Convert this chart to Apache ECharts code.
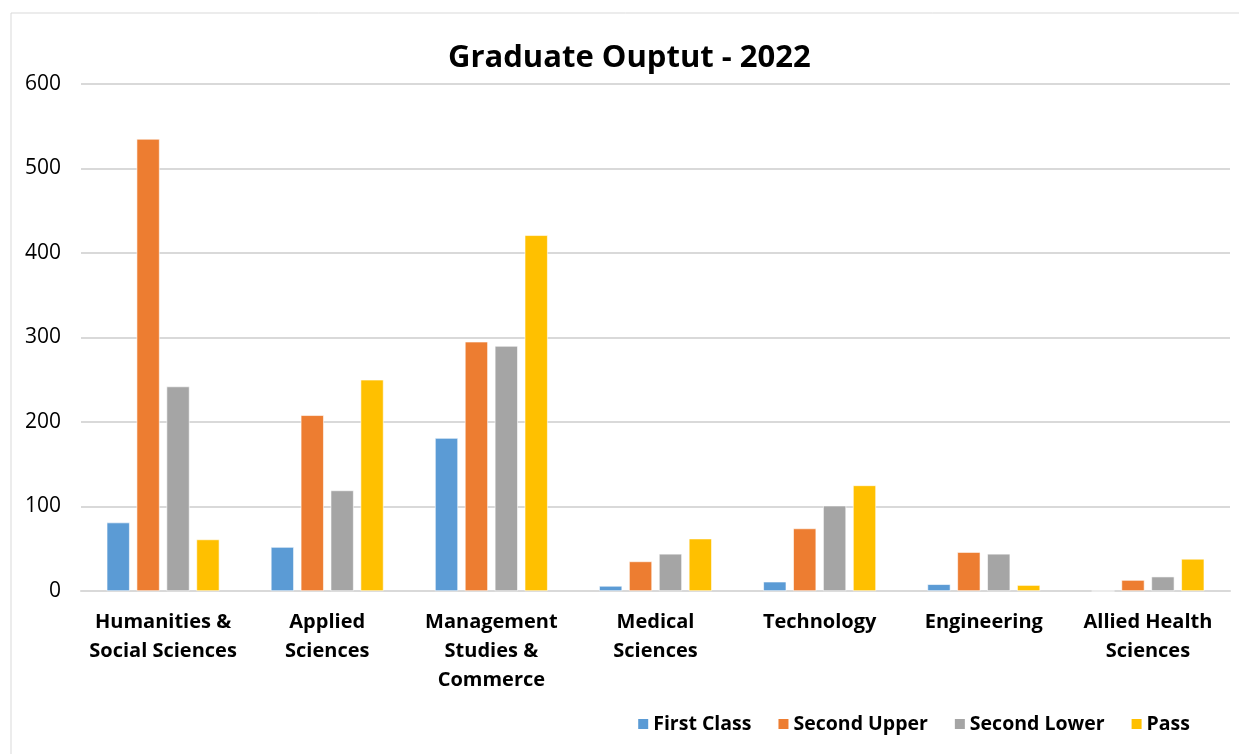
<!DOCTYPE html>
<html>
<head>
<meta charset="utf-8">
<script src="https://cdn.jsdelivr.net/npm/echarts@6/dist/echarts.min.js"></script>
<style>
    html, body { margin: 0; padding: 0; background: #fff; }
    #chart { width: 1239px; height: 754px; }
</style>
</head>
<body>
<div id="chart"></div>
<script>
// faculties
var categories = [
    'Humanities &\nSocial Sciences',
    'Applied\nSciences',
    'Management\nStudies &\nCommerce',
    'Medical\nSciences',
    'Technology',
    'Engineering',
    'Allied Health\nSciences'
];
var firstClass = [81, 52, 181, 6, 11, 8, 0];
var secondUpper = [535, 208, 295, 35, 74, 46, 13];
var secondLower = [242, 119, 290, 44, 101, 44, 17];
var pass = [61, 250, 421, 62, 125, 7, 38];

var fontName = 'Open Sans';
var colors = ['#5b9bd5', '#ed7d31', '#a5a5a5', '#ffc000'];

function makeSeries(name, data) {
    return {
        name: name,
        type: 'bar',
        data: data,
        barWidth: 23,
        barGap: '30%',
        itemStyle: { borderColor: '#fff', borderWidth: 0.6 }
    };
}

var chart = echarts.init(document.getElementById('chart'));
var option = {
    color: colors,
    animation: false,
    textStyle: { fontFamily: fontName },
    title: {
        text: 'Graduate Ouptut - 2022',
        left: 448,
        top: 43,
        padding: 0,
        textStyle: { fontSize: 31, fontWeight: 'bold', color: '#000', fontFamily: fontName }
    },
    graphic: [{
        type: 'rect',
        shape: { x: 11, y: 13, width: 1240, height: 760 },
        style: { fill: 'none', stroke: '#d9d9d9', lineWidth: 1 },
        silent: true
    }],
    legend: {
        right: 44,
        top: 709,
        itemWidth: 12,
        itemHeight: 12,
        itemGap: 25,
        icon: 'rect',
        textStyle: { fontSize: 19.5, fontWeight: 'bold', color: '#000', padding: [0, 0, 0, -1] },
        data: ['First Class', 'Second Upper', 'Second Lower', 'Pass']
    },
    grid: { left: 81, right: 9, top: 84, bottom: 163 },
    xAxis: {
        type: 'category',
        data: categories,
        axisLine: { lineStyle: { color: '#d9d9d9', width: 2 } },
        axisTick: { show: false },
        axisLabel: {
            color: '#000',
            fontSize: 20,
            fontWeight: 'bold',
            lineHeight: 29,
            margin: 17,
            interval: 0
        }
    },
    yAxis: {
        type: 'value',
        min: 0,
        max: 600,
        interval: 100,
        axisLine: { show: false },
        axisTick: { show: false },
        axisLabel: { color: '#000', fontSize: 21, margin: 20 },
        splitLine: { lineStyle: { color: '#d9d9d9', width: 2 } }
    },
    series: [
        makeSeries('First Class', firstClass),
        makeSeries('Second Upper', secondUpper),
        makeSeries('Second Lower', secondLower),
        makeSeries('Pass', pass)
    ]
};
chart.setOption(option);
</script>
</body>
</html>
